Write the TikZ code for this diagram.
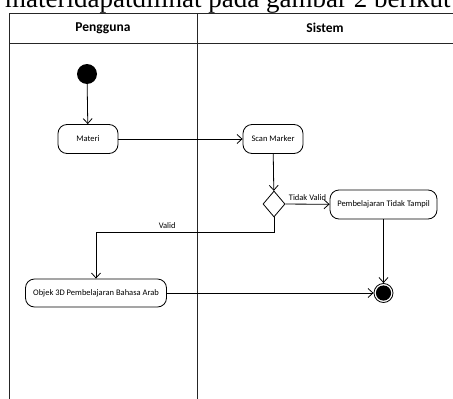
\documentclass[tikz,border=0pt]{standalone}
\usepackage{fontspec}
\setmainfont{Carlito}
\newfontfamily\capserif{Liberation Serif}
\usetikzlibrary{arrows.meta, shapes.geometric}

\begin{document}
\begin{tikzpicture}[
        x=1pt, y=-1pt,
        lane/.style={draw=black!85, line width=0.9pt},
        lanehead/.style={font=\fontsize{13.5}{15}\selectfont\bfseries},
        action/.style={rectangle, rounded corners=9pt, draw=black, line width=0.8pt, inner sep=0pt, font=\fontsize{8.5}{10}\selectfont, minimum height=29pt},
        decision/.style={diamond, draw=black, line width=0.8pt, inner sep=0pt, minimum width=22pt, minimum height=26pt},
        startnode/.style={circle, fill=black, inner sep=0pt, minimum size=20pt},
        endnode/.style={circle, draw=black, line width=0.8pt, inner sep=0pt, minimum size=19pt, path picture={\fill (path picture bounding box.center) circle (7.6pt);}},
        flow/.style={-{Straight Barb[length=5pt, width=9pt]}, line width=0.8pt},
        guard/.style={font=\fontsize{8.5}{10}\selectfont}
    ]
    \useasboundingbox (0,0) rectangle (453,399);

    % --- TEXT ABOVE THE FIGURE ---
    \node[anchor=base west, inner sep=0pt, font=\capserif\fontsize{27}{30}\selectfont] (caption) at (5,7.5) {materidapatdilihat pada gambar 2 berikut};

    % --- SWIMLANES ---
    \draw[lane] (9,410) -- (9,13) -- (460,13);
    \draw[lane] (9,43) -- (460,43);
    \draw[lane] (197,13) -- (197,410);
    \node[lanehead] (headuser) at (103,28) {Pengguna};
    \node[lanehead] (headsys) at (325,28) {Sistem};

    % --- NODES ---
    \node[startnode] (start) at (87,74) {};
    \node[action, minimum width=60pt] (materi) at (88,139) {Materi};
    \node[action, minimum width=60pt] (scan) at (273,139) {Scan Marker};
    \node[decision] (cek) at (274,204) {};
    \node[action, minimum width=107pt] (gagal) at (383.5,204.5) {Pembelajaran Tidak Tampil};
    \node[action, minimum width=141pt, minimum height=28pt] (objek) at (96,293) {Objek 3D Pembelajaran Bahasa Arab};
    \node[endnode] (stop) at (383.5,293) {};

    % --- FLOWS ---
    \draw[flow] (start) -- (materi);
    \draw[flow] (materi) -- (scan);
    \draw[flow] (scan) -- (cek);
    \draw[flow] (cek) -- node[guard, above] {Tidak Valid} (gagal);
    \draw[flow] (cek.south) -- ++(0,15) -| node[guard, pos=0.3, above] {Valid} (objek.north);
    \draw[flow] (gagal) -- (stop);
    \draw[flow] (objek) -- (stop);

\end{tikzpicture}
\end{document}
